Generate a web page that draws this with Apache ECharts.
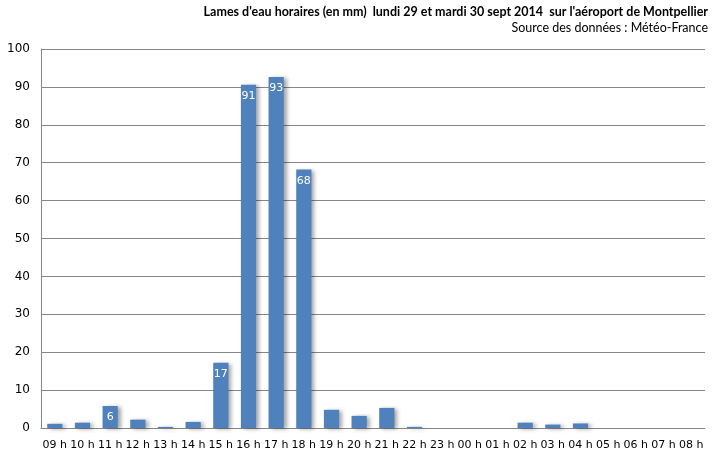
<!DOCTYPE html>
<html><head><meta charset="utf-8">
<script src="https://cdn.jsdelivr.net/npm/echarts@6/dist/echarts.min.js"></script>
<style>html,body{margin:0;padding:0;background:#fff}#c{width:713px;height:459px}</style>
</head><body><div id="c"></div>
<script>
const categories = ['09 h','10 h','11 h','12 h','13 h','14 h','15 h','16 h','17 h','18 h','19 h','20 h','21 h','22 h','23 h','00 h','01 h','02 h','03 h','04 h','05 h','06 h','07 h','08 h'];
const rain = [1.1,1.4,5.8,2.2,0.3,1.6,17.2,90.6,92.6,68.2,4.8,3.2,5.3,0.3,0,0,0,1.4,0.9,1.2,0,0,0,0];
const labelled = ['11 h','15 h','16 h','17 h','18 h'];
const yTicks = [0,10,20,30,40,50,60,70,80,90,100];
const titleText = "Lames d'eau horaires (en mm)  lundi 29 et mardi 30 sept 2014  sur l'aéroport de Montpellier";
const subText = 'Source des données : Météo-France';

const chart = echarts.init(document.getElementById('c'));
chart.setOption({
  animation:false,
  backgroundColor:'#fff',
  title:[
    {text:titleText, right:0, top:0, textStyle:{fontFamily:'Lato', fontSize:12.5, fontWeight:'bold', color:'#000'}},
    {text:subText, right:0, top:16, textStyle:{fontFamily:'Lato', fontSize:12.5, fontWeight:'normal', color:'#000'}}
  ],
  grid:{left:41, right:8, top:49, bottom:31},
  xAxis:{type:'category', data:categories,
    axisLine:{lineStyle:{color:'#868686'}}, axisTick:{show:false},
    axisLabel:{interval:0, color:'#000', fontFamily:'DejaVu Sans', fontSize:11, margin:12}},
  yAxis:{type:'value', min:yTicks[0], max:yTicks[yTicks.length-1], interval:10,
    axisLine:{show:true, lineStyle:{color:'#868686'}}, axisTick:{show:false},
    splitLine:{lineStyle:{color:'#868686'}},
    axisLabel:{color:'#000', fontFamily:'DejaVu Sans', fontSize:12, margin:11}},
  series:[{type:'bar', barCategoryGap:'45%',
    data: rain.map((v,i)=>({value:v, label:{show: labelled.includes(categories[i])}})),
    itemStyle:{color:'#4F81BD', shadowColor:'rgba(0,0,0,0.35)', shadowBlur:4, shadowOffsetX:3, shadowOffsetY:1},
    label:{position:'insideTop', distance:6, color:'#fff', fontFamily:'DejaVu Sans', fontSize:11,
      formatter:p=>Math.round(p.value)}
  }]
});
</script></body></html>
